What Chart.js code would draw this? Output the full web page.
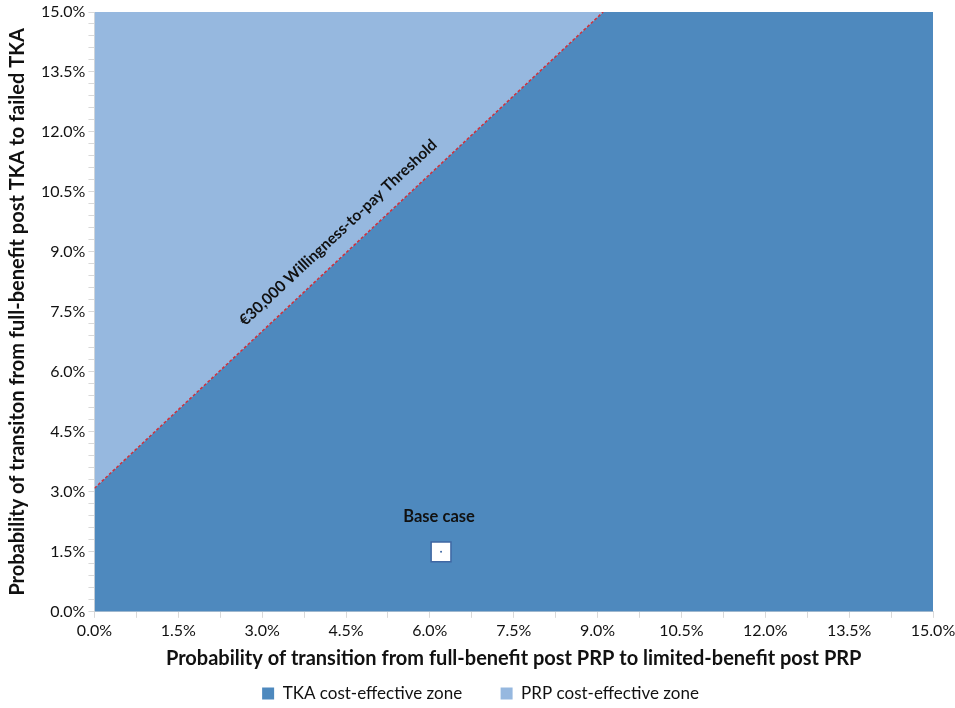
<!DOCTYPE html>
<html>
<head>
<meta charset="utf-8">
<script src="https://cdn.jsdelivr.net/npm/chart.js@4"></script>
<style>
  html, body { margin: 0; padding: 0; background: #fff; }
  #wrap { width: 955px; height: 708px; }
</style>
</head>
<body>
<div id="wrap"><canvas id="myChart" width="955" height="708"></canvas></div>
<script>
// threshold boundary (percent): x = PRP transition prob, y = TKA transition prob
const boundaryX = [0, 9.1, 15];
const boundaryY = [3.09, 15, 15];
// the dashed WTP line itself
const thresholdX = [0, 9.1];
const thresholdY = [3.09, 15];
// base case point
const baseX = [6.2];
const baseY = [1.5];
const zoneLabels = ["TKA cost-effective zone", "PRP cost-effective zone"];
const thresholdLabel = "€30,000 Willingness-to-pay Threshold";
const baseLabel = "Base case";

const darkBlue = "#4e89be";
const lightBlue = "#96b8df";
const font = "Lato, 'Open Sans', sans-serif";

function pts(xs, ys) {
  return xs.map((x, i) => ({ x: x, y: ys[i] }));
}

// writes the rotated threshold text and the base case label
const labelPlugin = {
  id: "labels",
  afterDatasetsDraw(chart) {
    const ctx = chart.ctx;
    const xs = chart.scales.x, ys = chart.scales.y;
    const x0 = xs.getPixelForValue(thresholdX[0]), y0 = ys.getPixelForValue(thresholdY[0]);
    const x1 = xs.getPixelForValue(thresholdX[1]), y1 = ys.getPixelForValue(thresholdY[1]);
    const ang = Math.atan2(y1 - y0, x1 - x0);
    const t = 0.506;
    const cx = x0 + (x1 - x0) * t, cy = y0 + (y1 - y0) * t;
    ctx.save();
    ctx.translate(cx, cy);
    ctx.rotate(ang);
    ctx.font = "bold 15.5px " + font;
    ctx.fillStyle = "#111";
    ctx.textAlign = "center";
    ctx.textBaseline = "middle";
    ctx.fillText(thresholdLabel, 0, -20);
    ctx.restore();

    const bx = xs.getPixelForValue(baseX[0]), by = ys.getPixelForValue(baseY[0]);
    ctx.save();
    ctx.font = "bold 16.5px " + font;
    ctx.fillStyle = "#111";
    ctx.textAlign = "center";
    ctx.textBaseline = "middle";
    ctx.fillText(baseLabel, bx - 2, by - 35);
    ctx.restore();
  }
};

new Chart("myChart", {
  type: "scatter",
  data: {
    datasets: [
      {
        label: zoneLabels[0],
        data: pts(boundaryX, boundaryY),
        showLine: true,
        borderWidth: 0,
        borderColor: darkBlue,
        backgroundColor: darkBlue,
        pointRadius: 0,
        fill: "start",
        order: 5
      },
      {
        label: zoneLabels[1],
        data: pts(boundaryX, boundaryY),
        showLine: true,
        borderWidth: 0,
        borderColor: lightBlue,
        backgroundColor: lightBlue,
        pointRadius: 0,
        fill: "end",
        order: 6
      },
      {
        label: "threshold",
        data: pts(thresholdX, thresholdY),
        showLine: true,
        borderColor: "#d0303a",
        borderWidth: 1.5,
        borderDash: [3, 2],
        pointRadius: 0,
        fill: false,
        order: 3
      },
      {
        label: "base",
        data: pts(baseX, baseY),
        pointStyle: "rect",
        pointRadius: 14,
        pointBackgroundColor: "#ffffff",
        pointBorderColor: "#3f67a3",
        pointBorderWidth: 1.5,
        order: 2
      },
      {
        label: "basedot",
        data: pts(baseX, baseY),
        pointStyle: "circle",
        pointRadius: 1,
        pointBackgroundColor: "#3f67a3",
        pointBorderWidth: 0,
        order: 1
      }
    ]
  },
  options: {
    responsive: false,
    animation: false,
    layout: { autoPadding: false, padding: { left: 6, right: 0, top: 0, bottom: -4 } },
    plugins: {
      tooltip: { enabled: false },
      legend: {
        position: "bottom",
        labels: {
          filter: (item) => item.datasetIndex < 2,
          boxWidth: 12,
          boxHeight: 12,
          padding: 8,
          color: "#111",
          font: { family: font, size: 17 },
          generateLabels: (chart) => {
            const items = Chart.defaults.plugins.legend.labels.generateLabels(chart);
            items.forEach((it) => {
              it.lineWidth = 0;
              if (it.datasetIndex === 0) it.text = it.text + "       ";
            });
            return items;
          }
        }
      }
    },
    scales: {
      x: {
        type: "linear",
        min: 0,
        max: 15,
        afterFit: (s) => { s.paddingRight = 22; },
        border: { color: "#d9d9d9" },
        grid: { drawOnChartArea: false, color: "#d9d9d9", tickLength: 6 },
        ticks: {
          stepSize: 0.75,
          autoSkip: false,
          maxRotation: 0,
          padding: 3,
          color: "#111",
          font: { family: font, size: 16 },
          callback: (v, i) => (i % 2 === 0 ? v.toFixed(1) + "%" : "")
        },
        title: {
          display: true,
          text: "Probability of transition from full-benefit post PRP to limited-benefit post PRP",
          color: "#111",
          font: { family: font, size: 20, weight: "bold" },
          padding: { top: 4, bottom: 6 }
        }
      },
      y: {
        type: "linear",
        min: 0,
        max: 15,
        afterFit: (s) => { s.paddingTop = 12; },
        border: { color: "#d9d9d9" },
        grid: { drawOnChartArea: false, color: "#d9d9d9", tickLength: 6 },
        ticks: {
          stepSize: 0.3,
          autoSkip: false,
          color: "#111",
          font: { family: font, size: 16 },
          callback: (v, i) => (i % 5 === 0 ? v.toFixed(1) + "%" : "")
        },
        title: {
          display: true,
          text: "Probability of transiton from full-benefit post TKA to failed TKA",
          color: "#111",
          font: { family: font, size: 20, weight: "bold" },
          padding: { top: 0, bottom: 8 }
        }
      }
    }
  },
  plugins: [labelPlugin]
});
</script>
</body>
</html>
